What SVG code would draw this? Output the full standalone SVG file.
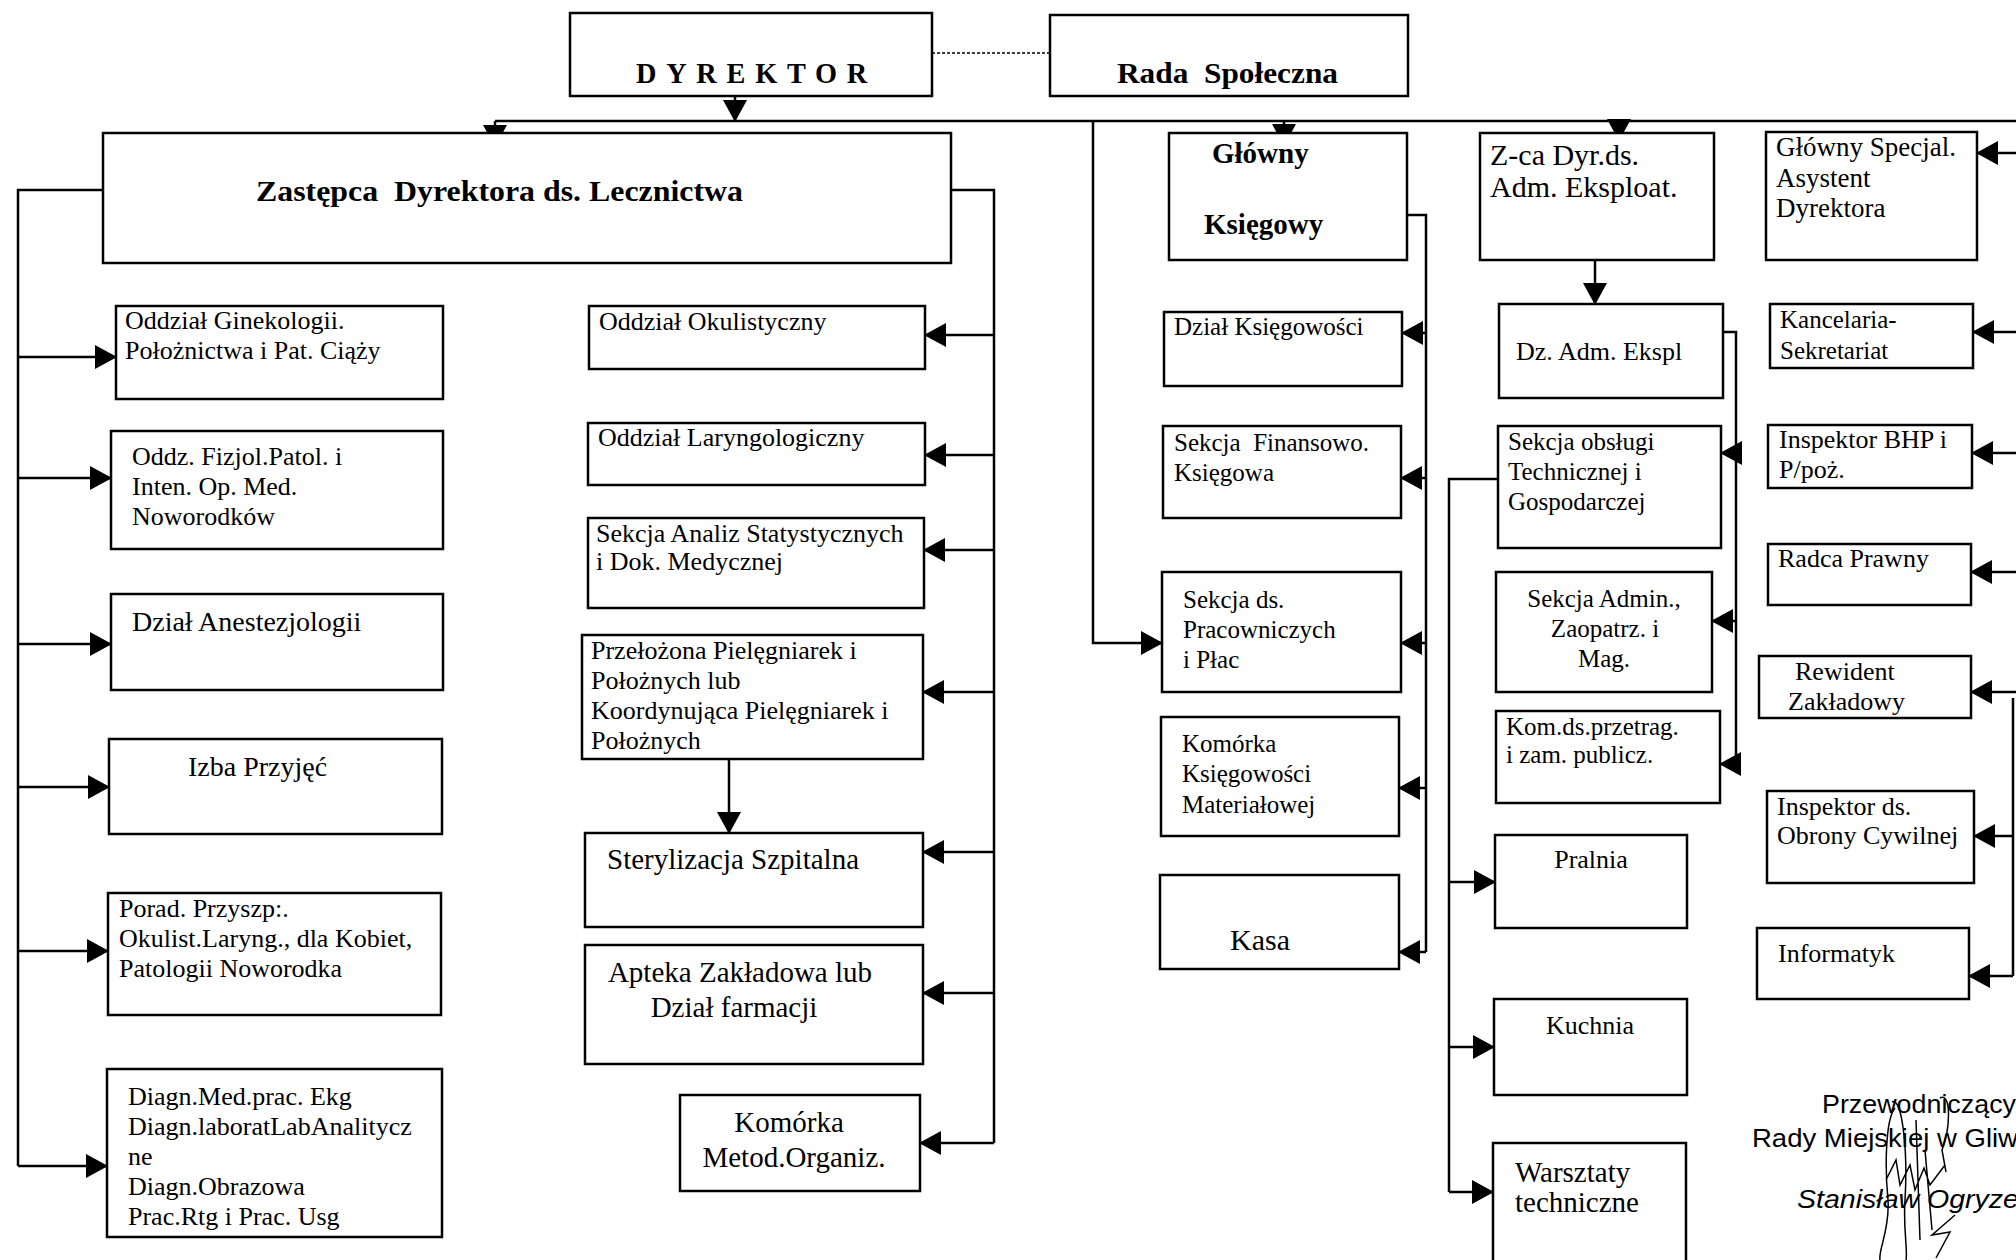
<svg xmlns="http://www.w3.org/2000/svg" width="2016" height="1260" viewBox="0 0 2016 1260">
<defs>
<style>
.box{fill:#fff;stroke:#000;stroke-width:2.5}
.t{font-family:"Liberation Serif","Times New Roman",serif;font-size:26px;fill:#000}
.b{font-weight:bold}
.c{text-anchor:middle}
.ln{fill:none;stroke:#000;stroke-width:2.5}
.ar{fill:none;stroke:#000;stroke-width:2.5;marker-end:url(#ah)}
.sig{font-family:"Liberation Sans","DejaVu Sans",sans-serif;font-size:26px;fill:#000}
</style>
<marker id="ah" markerUnits="userSpaceOnUse" markerWidth="22" markerHeight="24" refX="21" refY="12" orient="auto">
<path d="M0,0 L22,12 L0,24 z" fill="#000"/>
</marker>
</defs>
<rect width="2016" height="1260" fill="#fff"/>

<g id="connectors">
<line x1="932" y1="53" x2="1050" y2="53" stroke="#000" stroke-width="1.5" stroke-dasharray="3,2"/>
<path class="ar" d="M735,96 V121"/>
<path class="ln" d="M495,121 H2016"/>
<path class="ar" d="M495,121 V146"/>
<path class="ar" d="M1284,121 V145"/>
<path class="ar" d="M1619,121 V140"/>
<path class="ar" d="M1093,121 V643 H1162"/>
<path class="ln" d="M103,190 H18 V1166"/>
<path class="ar" d="M18,357 H116"/>
<path class="ar" d="M18,478 H111"/>
<path class="ar" d="M18,644 H111"/>
<path class="ar" d="M18,787 H109"/>
<path class="ar" d="M18,951 H108"/>
<path class="ar" d="M18,1166 H107"/>
<path class="ln" d="M951,190 H994 V1143"/>
<path class="ar" d="M994,335 H925"/>
<path class="ar" d="M994,455 H925"/>
<path class="ar" d="M994,550 H924"/>
<path class="ar" d="M994,692 H923"/>
<path class="ar" d="M994,852 H923"/>
<path class="ar" d="M994,993 H923"/>
<path class="ar" d="M994,1143 H920"/>
<path class="ar" d="M729,759 V833"/>
<path class="ln" d="M1407,215 H1426 V952"/>
<path class="ar" d="M1426,333 H1402"/>
<path class="ar" d="M1426,478 H1401"/>
<path class="ar" d="M1426,643 H1401"/>
<path class="ar" d="M1426,788 H1399"/>
<path class="ar" d="M1426,952 H1399"/>
<path class="ar" d="M1595,260 V304"/>
<path class="ln" d="M1714,332 H1736 V764"/>
<path class="ar" d="M1736,453 H1721"/>
<path class="ar" d="M1736,621 H1712"/>
<path class="ar" d="M1736,764 H1720"/>
<path class="ln" d="M1498,479 H1449 V1192"/>
<path class="ar" d="M1449,882 H1495"/>
<path class="ar" d="M1449,1047 H1494"/>
<path class="ar" d="M1449,1192 H1493"/>
<path class="ln" d="M2013,698 V976"/>
<path class="ar" d="M2016,153 H1977"/>
<path class="ar" d="M2016,332 H1973"/>
<path class="ar" d="M2016,453 H1972"/>
<path class="ar" d="M2016,572 H1971"/>
<path class="ar" d="M2016,692 H1971"/>
<path class="ar" d="M2013,836 H1974"/>
<path class="ar" d="M2013,976 H1969"/>
</g>

<g id="dyrektor"><rect class="box" x="570" y="13" width="362" height="83"/><text class="t b" x="636" y="83" style="font-size:29px;letter-spacing:10px" textLength="241" lengthAdjust="spacingAndGlyphs">DYREKTOR</text></g>
<g id="rada"><rect class="box" x="1050" y="15" width="358" height="81"/><text class="t b" x="1117" y="83" style="font-size:29px" textLength="221" lengthAdjust="spacingAndGlyphs">Rada&#160; Społeczna</text></g>
<g id="zastepca"><rect class="box" x="103" y="133" width="848" height="130"/><text class="t b" x="256" y="201" style="font-size:29px" textLength="487" lengthAdjust="spacingAndGlyphs">Zastępca&#160; Dyrektora ds. Lecznictwa</text></g>

<g id="ginekologia"><rect class="box" x="116" y="306" width="327" height="93"/><text class="t"><tspan x="125" y="329">Oddział Ginekologii.</tspan><tspan x="125" y="359">Położnictwa i Pat. Ciąży</tspan></text></g>
<g id="fizjol"><rect class="box" x="111" y="431" width="332" height="118"/><text class="t"><tspan x="132" y="465">Oddz. Fizjol.Patol. i</tspan><tspan x="132" y="495">Inten. Op. Med.</tspan><tspan x="132" y="525">Noworodków</tspan></text></g>
<g id="anestezjologia"><rect class="box" x="111" y="594" width="332" height="96"/><text class="t" x="132" y="631" style="font-size:28px">Dział Anestezjologii</text></g>
<g id="izba"><rect class="box" x="109" y="739" width="333" height="95"/><text class="t" x="188" y="776" style="font-size:28px">Izba Przyjęć</text></g>
<g id="poradnie"><rect class="box" x="108" y="893" width="333" height="122"/><text class="t"><tspan x="119" y="917">Porad. Przyszp:.</tspan><tspan x="119" y="947">Okulist.Laryng., dla Kobiet,</tspan><tspan x="119" y="977">Patologii Noworodka</tspan></text></g>
<g id="diagn"><rect class="box" x="107" y="1069" width="335" height="168"/><text class="t"><tspan x="128" y="1105">Diagn.Med.prac. Ekg</tspan><tspan x="128" y="1135">Diagn.laboratLabAnalitycz</tspan><tspan x="128" y="1165">ne</tspan><tspan x="128" y="1195">Diagn.Obrazowa</tspan><tspan x="128" y="1225">Prac.Rtg i Prac. Usg</tspan></text></g>

<g id="okulistyczny"><rect class="box" x="589" y="306" width="336" height="63"/><text class="t" x="599" y="330">Oddział Okulistyczny</text></g>
<g id="laryngologiczny"><rect class="box" x="588" y="423" width="337" height="62"/><text class="t" x="598" y="446">Oddział Laryngologiczny</text></g>
<g id="analizy"><rect class="box" x="588" y="518" width="336" height="90"/><text class="t"><tspan x="596" y="542">Sekcja Analiz Statystycznych</tspan><tspan x="596" y="570">i Dok. Medycznej</tspan></text></g>
<g id="przelozona"><rect class="box" x="582" y="635" width="341" height="124"/><text class="t"><tspan x="591" y="659">Przełożona Pielęgniarek i</tspan><tspan x="591" y="689">Położnych lub</tspan><tspan x="591" y="719">Koordynująca Pielęgniarek i</tspan><tspan x="591" y="749">Położnych</tspan></text></g>
<g id="sterylizacja"><rect class="box" x="585" y="833" width="338" height="94"/><text class="t" x="607" y="869" style="font-size:29px">Sterylizacja Szpitalna</text></g>
<g id="apteka"><rect class="box" x="585" y="945" width="338" height="119"/><text class="t c" style="font-size:29px"><tspan x="740" y="982">Apteka Zakładowa lub</tspan><tspan x="734" y="1017">Dział farmacji</tspan></text></g>
<g id="metod"><rect class="box" x="680" y="1095" width="240" height="96"/><text class="t c" style="font-size:29px"><tspan x="789" y="1132">Komórka</tspan><tspan x="794" y="1167">Metod.Organiz.</tspan></text></g>

<g id="ksiegowy"><rect class="box" x="1169" y="133" width="238" height="127"/><text class="t b" style="font-size:29px"><tspan x="1212" y="163">Główny</tspan><tspan x="1204" y="234">Księgowy</tspan></text></g>
<g id="dzial-ksiegowosci"><rect class="box" x="1164" y="312" width="238" height="74"/><text class="t" x="1174" y="335" style="font-size:25px">Dział Księgowości</text></g>
<g id="finansowo"><rect class="box" x="1163" y="426" width="238" height="92"/><text class="t" style="font-size:25px"><tspan x="1174" y="451">Sekcja&#160; Finansowo.</tspan><tspan x="1174" y="481">Księgowa</tspan></text></g>
<g id="pracownicze"><rect class="box" x="1162" y="572" width="239" height="120"/><text class="t" style="font-size:25px"><tspan x="1183" y="608">Sekcja ds.</tspan><tspan x="1183" y="638">Pracowniczych</tspan><tspan x="1183" y="668">i Płac</tspan></text></g>
<g id="materialowa"><rect class="box" x="1161" y="717" width="238" height="119"/><text class="t" style="font-size:25px"><tspan x="1182" y="752">Komórka</tspan><tspan x="1182" y="782">Księgowości</tspan><tspan x="1182" y="813">Materiałowej</tspan></text></g>
<g id="kasa"><rect class="box" x="1160" y="875" width="239" height="94"/><text class="t" x="1230" y="950" style="font-size:30px">Kasa</text></g>

<g id="zca"><rect class="box" x="1480" y="133" width="234" height="127"/><text class="t" style="font-size:30px"><tspan x="1490" y="165">Z-ca Dyr.ds.</tspan><tspan x="1490" y="197">Adm. Eksploat.</tspan></text></g>
<g id="dz-adm"><rect class="box" x="1499" y="304" width="224" height="94"/><text class="t" x="1516" y="360">Dz. Adm. Ekspl</text></g>
<g id="obslugi"><rect class="box" x="1498" y="426" width="223" height="122"/><text class="t" style="font-size:25px"><tspan x="1508" y="450">Sekcja obsługi</tspan><tspan x="1508" y="480">Technicznej i</tspan><tspan x="1508" y="510">Gospodarczej</tspan></text></g>
<g id="admin"><rect class="box" x="1496" y="572" width="216" height="120"/><text class="t c" style="font-size:25px"><tspan x="1604" y="607">Sekcja Admin.,</tspan><tspan x="1605" y="637">Zaopatrz. i</tspan><tspan x="1604" y="667">Mag.</tspan></text></g>
<g id="przetargi"><rect class="box" x="1496" y="711" width="224" height="92"/><text class="t" style="font-size:25px"><tspan x="1506" y="735">Kom.ds.przetrag.</tspan><tspan x="1506" y="763">i zam. publicz.</tspan></text></g>
<g id="pralnia"><rect class="box" x="1495" y="835" width="192" height="93"/><text class="t c" x="1591" y="868">Pralnia</text></g>
<g id="kuchnia"><rect class="box" x="1494" y="999" width="193" height="96"/><text class="t c" x="1590" y="1034">Kuchnia</text></g>
<g id="warsztaty"><rect class="box" x="1493" y="1143" width="193" height="130"/><text class="t" style="font-size:29px"><tspan x="1515" y="1182">Warsztaty</tspan><tspan x="1515" y="1212">techniczne</tspan></text></g>

<g id="specjal"><rect class="box" x="1766" y="132" width="211" height="128"/><text class="t" style="font-size:27px"><tspan x="1776" y="156">Główny Specjal.</tspan><tspan x="1776" y="187">Asystent</tspan><tspan x="1776" y="217">Dyrektora</tspan></text></g>
<g id="kancelaria"><rect class="box" x="1770" y="304" width="203" height="64"/><text class="t" style="font-size:25px"><tspan x="1780" y="328">Kancelaria-</tspan><tspan x="1780" y="359">Sekretariat</tspan></text></g>
<g id="bhp"><rect class="box" x="1768" y="425" width="204" height="63"/><text class="t"><tspan x="1779" y="448">Inspektor BHP i</tspan><tspan x="1779" y="478">P/poż.</tspan></text></g>
<g id="radca"><rect class="box" x="1768" y="544" width="203" height="61"/><text class="t" x="1778" y="567">Radca Prawny</text></g>
<g id="rewident"><rect class="box" x="1759" y="656" width="212" height="62"/><text class="t"><tspan x="1795" y="680">Rewident</tspan><tspan x="1788" y="710">Zakładowy</tspan></text></g>
<g id="obrona"><rect class="box" x="1767" y="791" width="207" height="92"/><text class="t"><tspan x="1777" y="815">Inspektor ds.</tspan><tspan x="1777" y="844">Obrony Cywilnej</tspan></text></g>
<g id="informatyk"><rect class="box" x="1757" y="928" width="212" height="71"/><text class="t" x="1778" y="962">Informatyk</text></g>

<g id="podpis">
<text class="sig" x="1822" y="1113" textLength="194" lengthAdjust="spacingAndGlyphs">Przewodniczący</text>
<text class="sig" x="1752" y="1147" textLength="266" lengthAdjust="spacingAndGlyphs">Rady Miejskiej w Gliw</text>
<text class="sig" x="1797" y="1208" style="font-style:italic" textLength="222" lengthAdjust="spacingAndGlyphs">Stanisław Ogryze</text>
<path d="M1895,1108 C1885,1120 1885,1170 1888,1200 C1890,1230 1878,1250 1880,1260 M1892,1102 C1902,1096 1908,1150 1905,1200 C1903,1230 1908,1250 1906,1260 M1886,1180 L1896,1160 L1900,1185 L1910,1165 L1915,1190 L1924,1168 L1930,1185 L1945,1165 M1940,1098 C1952,1092 1950,1130 1942,1150 L1946,1172 M1916,1120 L1920,1240 M1925,1150 L1932,1230 M1955,1215 L1932,1235 L1950,1232 L1936,1258" fill="none" stroke="#000" stroke-width="1.5"/>
</g>
</svg>
